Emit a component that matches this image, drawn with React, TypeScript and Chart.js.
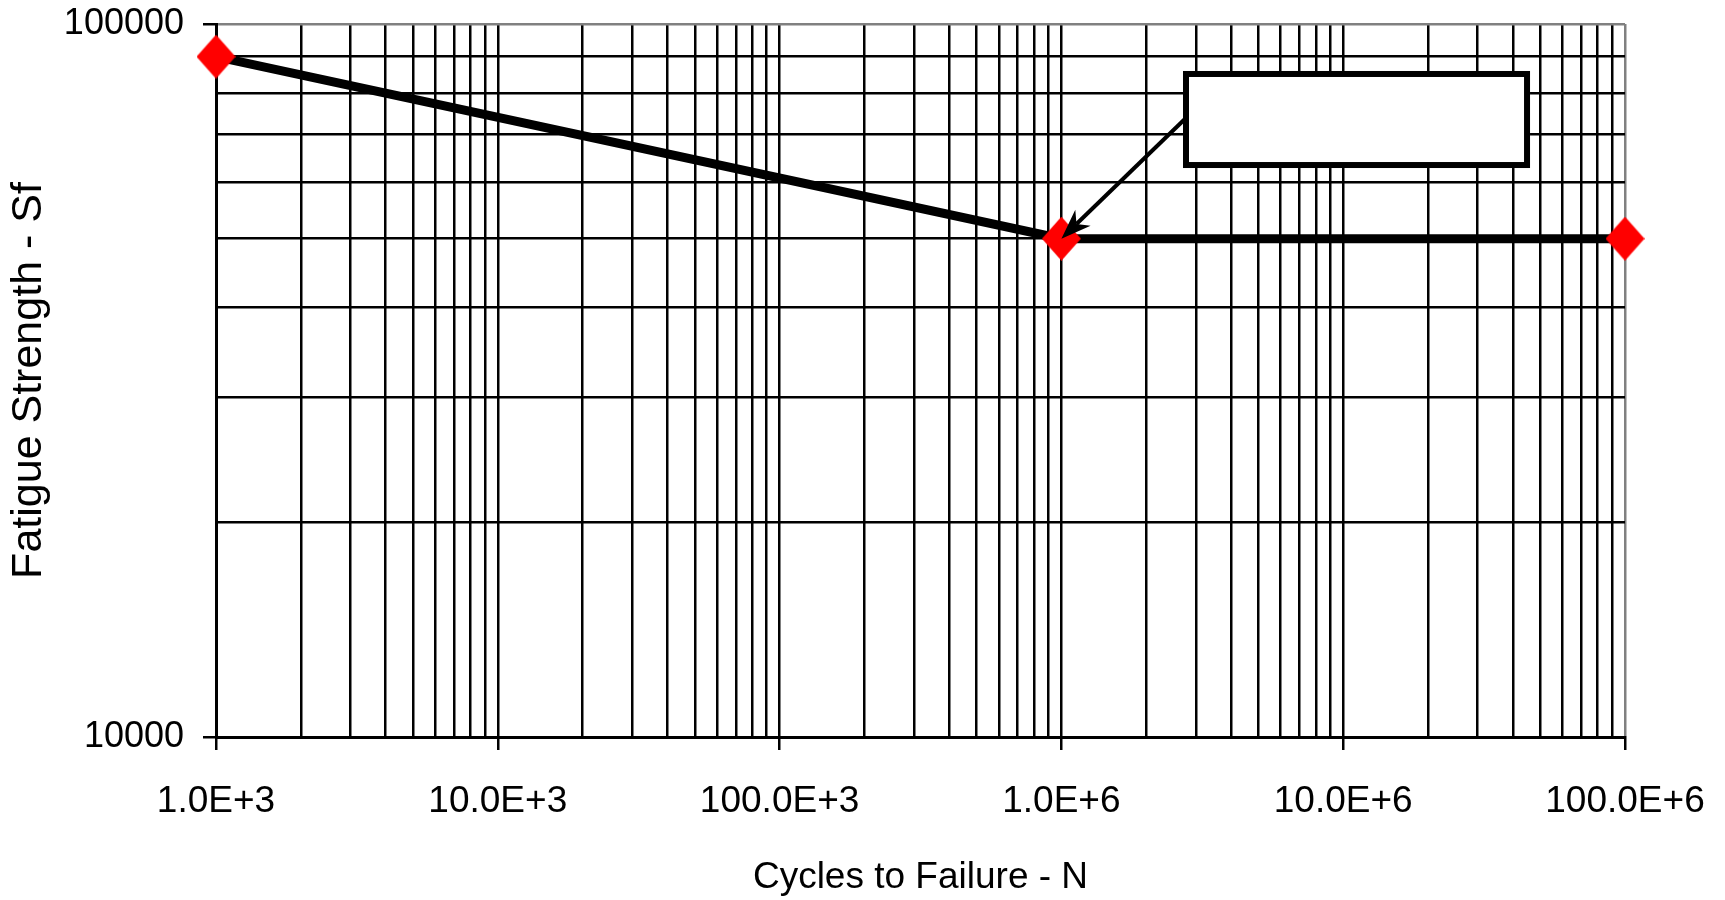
import React, { useEffect, useRef } from 'react';
import { Chart, registerables } from 'chart.js';

Chart.register(...registerables);

// ---- data ----
const cycles = [1e3, 1e6, 1e8];
const strength = [90000, 50000, 50000];

// ---- axes ----
const xMin = 1e3;
const xMax = 1e8;
const yMin = 1e4;
const yMax = 1e5;
const xDecades = [1e3, 1e4, 1e5, 1e6, 1e7, 1e8];
const xTickLabels = ['1.0E+3', '10.0E+3', '100.0E+3', '1.0E+6', '10.0E+6', '100.0E+6'];
const yDecades = [1e4, 1e5];
const yTickLabels = ['10000', '100000'];
const gridMultipliers = [1, 2, 3, 4, 5, 6, 7, 8, 9];

const xTitle = 'Cycles to Failure - N';
const yTitle = 'Fatigue Strength - Sf';

function gridValues(decades: number[], max: number): number[] {
  const out: number[] = [];
  decades.forEach((d) => {
    gridMultipliers.forEach((m) => {
      const v = d * m;
      if (v <= max && !out.includes(v)) out.push(v);
    });
  });
  return out;
}

const xGrid = gridValues(xDecades, xMax);
const yGrid = gridValues(yDecades, yMax);

// callout box placement as fractions of the plot area
const calloutBox = { left: 0.6863, right: 0.9326, top: 0.0659, bottom: 0.202 };
const arrowStart = { x: 0.6884, y: 0.1318 };

function makeDiamond(): HTMLCanvasElement {
  const c = document.createElement('canvas');
  c.width = 39;
  c.height = 44;
  const g = c.getContext('2d')!;
  g.fillStyle = '#ff0000';
  g.beginPath();
  g.moveTo(19.5, 0);
  g.lineTo(39, 22);
  g.lineTo(19.5, 44);
  g.lineTo(0, 22);
  g.closePath();
  g.fill();
  return c;
}

const calloutPlugin = {
  id: 'callout',
  afterDatasetsDraw(chart: any) {
    const { ctx, chartArea: a, scales } = chart;
    const w = a.right - a.left;
    const h = a.bottom - a.top;
    const tx = scales.x.getPixelForValue(cycles[1]);
    const ty = scales.y.getPixelForValue(strength[1]);
    const sx = a.left + w * arrowStart.x;
    const sy = a.top + h * arrowStart.y;
    const dx = tx - sx;
    const dy = ty - sy;
    const len = Math.hypot(dx, dy);
    const ux = dx / len;
    const uy = dy / len;
    const nx = -uy;
    const ny = ux;
    const L = 30;
    const W = 11;
    ctx.save();
    ctx.strokeStyle = '#000';
    ctx.fillStyle = '#000';
    ctx.lineWidth = 4;
    ctx.beginPath();
    ctx.moveTo(sx, sy);
    ctx.lineTo(tx - ux * L * 0.7, ty - uy * L * 0.7);
    ctx.stroke();
    ctx.beginPath();
    ctx.moveTo(tx, ty);
    ctx.lineTo(tx - ux * L + nx * W, ty - uy * L + ny * W);
    ctx.lineTo(tx - ux * L * 0.7, ty - uy * L * 0.7);
    ctx.lineTo(tx - ux * L - nx * W, ty - uy * L - ny * W);
    ctx.closePath();
    ctx.fill();

    const bx1 = a.left + w * calloutBox.left;
    const bx2 = a.left + w * calloutBox.right;
    const by1 = a.top + h * calloutBox.top;
    const by2 = a.top + h * calloutBox.bottom;
    ctx.lineWidth = 6;
    ctx.fillStyle = '#ffffff';
    ctx.fillRect(bx1, by1, bx2 - bx1, by2 - by1);
    ctx.strokeRect(bx1 + 3, by1 + 3, bx2 - bx1 - 6, by2 - by1 - 6);
    ctx.restore();
  },
};

export default function App() {
  const ref = useRef<HTMLCanvasElement | null>(null);

  useEffect(() => {
    if (!ref.current) return;
    const font = "'Liberation Sans', Arial, Helvetica, sans-serif";
    const diamond = makeDiamond();
    const chart = new Chart(ref.current, {
      type: 'scatter',
      data: {
        datasets: [
          {
            data: cycles.map((c, i) => ({ x: c, y: strength[i] })),
            showLine: true,
            borderColor: '#000000',
            borderWidth: 9,
            pointStyle: diamond as any,
            pointRadius: 18,
            pointBackgroundColor: '#ff0000',
            pointBorderWidth: 0,
            clip: false as any,
          },
        ],
      },
      options: {
        animation: false,
        responsive: false,
        devicePixelRatio: 1,
        layout: { autoPadding: false, padding: { top: 24, right: 100, left: 0, bottom: 0 } },
        plugins: { legend: { display: false }, tooltip: { enabled: false } },
        scales: {
          x: {
            type: 'logarithmic',
            position: 'bottom',
            min: xMin,
            max: xMax,
            afterBuildTicks: (scale: any) => {
              scale.ticks = xGrid.map((v) => ({ value: v, major: xDecades.includes(v) }));
            },
            afterFit: (scale: any) => {
              scale.height = 163;
              scale.paddingLeft = 0;
              scale.paddingRight = 0;
              scale.paddingTop = 0;
              scale.paddingBottom = 0;
            },
            ticks: {
              autoSkip: false,
              maxRotation: 0,
              minRotation: 0,
              padding: 33,
              color: '#000',
              font: { family: font, size: 37, lineHeight: 1 },
              callback: (value: any) => {
                const i = xDecades.indexOf(Number(value));
                return i >= 0 ? xTickLabels[i] : '';
              },
            },
            grid: {
              color: (c: any) => (c.tick && c.tick.value === xMax ? '#808080' : '#000000'),
              lineWidth: 2.5,
              tickLength: 13,
              tickWidth: 2.5,
              tickColor: (c: any) => (c.tick && xDecades.includes(c.tick.value) ? '#000000' : 'rgba(0,0,0,0)'),
            },
            border: { color: '#000000', width: 3 },
            title: {
              display: true,
              text: xTitle,
              color: '#000',
              font: { family: font, size: 37, lineHeight: 1 },
              padding: { top: 0, bottom: 4 },
            },
          },
          y: {
            type: 'logarithmic',
            position: 'left',
            min: yMin,
            max: yMax,
            afterBuildTicks: (scale: any) => {
              scale.ticks = yGrid.map((v) => ({ value: v, major: yDecades.includes(v) }));
            },
            afterFit: (scale: any) => {
              scale.width = 216;
              scale.paddingLeft = 0;
              scale.paddingRight = 0;
              scale.paddingTop = 0;
              scale.paddingBottom = 0;
            },
            ticks: {
              autoSkip: false,
              padding: 19,
              color: '#000',
              font: { family: font, size: 36, lineHeight: 1 },
              callback: (value: any) => {
                const i = yDecades.indexOf(Number(value));
                return i >= 0 ? yTickLabels[i] : '';
              },
            },
            grid: {
              color: (c: any) => (c.tick && c.tick.value === yMax ? '#808080' : '#000000'),
              lineWidth: 2.5,
              tickLength: 13,
              tickWidth: 2.5,
              tickColor: (c: any) => (c.tick && yDecades.includes(c.tick.value) ? '#000000' : 'rgba(0,0,0,0)'),
            },
            border: { color: '#000000', width: 3 },
            title: {
              display: true,
              text: yTitle,
              color: '#000',
              font: { family: font, size: 43, lineHeight: 1 },
              padding: { top: 8, bottom: 0 },
            },
          },
        },
      },
      plugins: [calloutPlugin],
    });
    return () => chart.destroy();
  }, []);

  return (
    <div style={{ position: 'absolute', left: 0, top: 0, width: 1725, height: 900, background: '#fff' }}>
      <canvas ref={ref} width={1725} height={900} style={{ display: 'block', width: 1725, height: 900 }} />
    </div>
  );
}
